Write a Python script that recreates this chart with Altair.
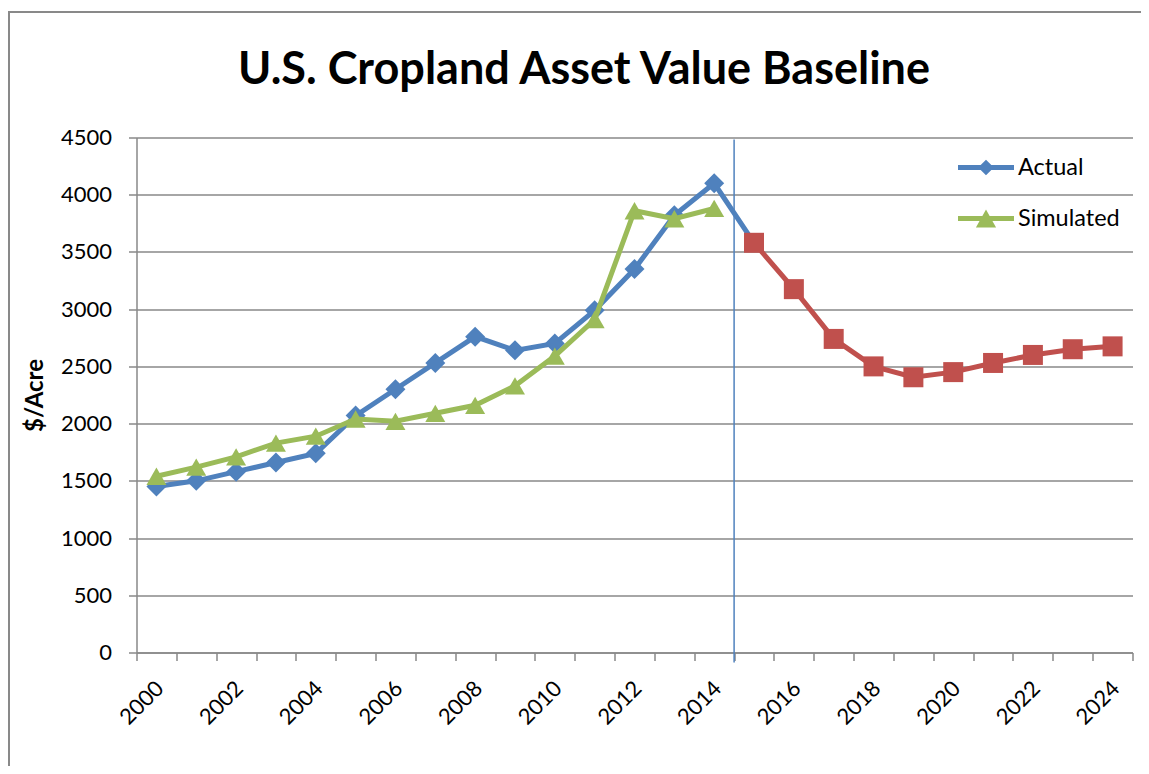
import altair as alt
import pandas as pd

# ---------------- data ----------------
years = list(range(2000, 2025))
actual_years = list(range(2000, 2015))
actual = [1450, 1500, 1580, 1660, 1740, 2070, 2300, 2530, 2760, 2640, 2700, 2990, 3350, 3820, 4100]
simulated = [1540, 1620, 1710, 1830, 1890, 2040, 2020, 2090, 2160, 2330, 2590, 2910, 3860, 3790, 3880]
forecast_years = list(range(2015, 2025))
forecast = [3580, 3175, 2740, 2500, 2405, 2450, 2530, 2600, 2650, 2675]
y_ticks = list(range(0, 4501, 500))
divider_year = [2015]

BLUE, GREEN, RED = "#4F81BD", "#9BBB59", "#C0504D"
GRAY = "#898989"
FONT = "Lato"
W, H = 996, 515

actual_line = pd.DataFrame({"year": actual_years + [forecast_years[0]],
                            "value": actual + [forecast[0]], "series": "Actual"})
actual_pts = pd.DataFrame({"year": actual_years, "value": actual, "series": "Actual"})
sim_df = pd.DataFrame({"year": actual_years, "value": simulated, "series": "Simulated"})
fc_df = pd.DataFrame({"year": forecast_years, "value": forecast, "series": "Baseline"})
legend_df = pd.concat([actual_pts, sim_df])
div_df = pd.DataFrame({"year": divider_year})

xscale = alt.Scale(type="band", domain=years, paddingInner=0, paddingOuter=0)
yscale = alt.Scale(domain=[0, 4500], nice=False)

x_axis = alt.Axis(title=None, labelAngle=-45, labelAlign="right", labelBaseline="top",
                  tickBand="extent", labelExpr="datum.value % 2 == 0 ? datum.label : ''",
                  labelOverlap=False, labelPadding=17, labelOffset=-4, grid=False)
y_axis = alt.Axis(values=y_ticks, format="d", title="$/Acre", titleFontSize=24,
                  titleFontWeight="bold", titlePadding=13, labelPadding=17, grid=True)

X = alt.X("year:O", scale=xscale, axis=x_axis, bandPosition=0.5)
Y = alt.Y("value:Q", scale=yscale, axis=y_axis)

tri_path = "M0,-0.866L1,0.866L-1,0.866Z"
leg_diamond = "M-1,-0.09L1,-0.09L1,0.09L-1,0.09Z M0,-0.28L0.28,0L0,0.28L-0.28,0Z"
leg_tri = "M-1,-0.09L1,-0.09L1,0.09L-1,0.09Z M0,-0.32L0.36,0.32L-0.36,0.32Z"

frame = alt.Chart(alt.Data(values=[{}])).mark_rect(
    fillOpacity=0, stroke=GRAY, strokeWidth=2
).encode(x=alt.value(-127.5), x2=alt.value(W + 60), y=alt.value(-125.5), y2=alt.value(H + 200))

blue_line = alt.Chart(actual_line).mark_line(color=BLUE, strokeWidth=5).encode(x=X, y=Y)
blue_pts = alt.Chart(actual_pts).mark_point(filled=True, opacity=1, color=BLUE, shape="diamond",
                                            size=400).encode(x=X, y=Y)
green_line = alt.Chart(sim_df).mark_line(color=GREEN, strokeWidth=5).encode(x=X, y=Y)
green_pts = alt.Chart(sim_df).mark_point(filled=True, opacity=1, color=GREEN, shape=tri_path,
                                         size=400).encode(x=X, y=Y)
red_line = alt.Chart(fc_df).mark_line(color=RED, strokeWidth=5).encode(x=X, y=Y)
red_pts = alt.Chart(fc_df).mark_point(filled=True, opacity=1, color=RED, shape="square",
                                      size=400).encode(x=X, y=Y)

divider = alt.Chart(div_df).mark_rule(color=BLUE, strokeWidth=1.5).encode(
    x=alt.X("year:O", scale=xscale, axis=x_axis, bandPosition=0),
    y=alt.value(2), y2=alt.value(H + 10))

leg = alt.Legend(title=None, orient="none", legendX=821.5, legendY=2, symbolSize=3136,
                 symbolStrokeWidth=0, symbolOpacity=1, labelFontSize=23.5, labelFont=FONT,
                 labelColor="black", labelOffset=4, rowPadding=11)
legend_layer = alt.Chart(legend_df).mark_point(filled=True, opacity=0, size=1).encode(
    x=X, y=Y,
    color=alt.Color("series:N", scale=alt.Scale(domain=["Actual", "Simulated"], range=[BLUE, GREEN]),
                    legend=leg),
    shape=alt.Shape("series:N", scale=alt.Scale(domain=["Actual", "Simulated"],
                                                range=[leg_diamond, leg_tri]), legend=leg),
)

chart = alt.layer(
    frame, blue_line, blue_pts, green_line, green_pts, red_line, red_pts, divider, legend_layer
).properties(
    width=W, height=H,
    title=alt.Title("U.S. Cropland Asset Value Baseline", fontSize=45, font=FONT, fontWeight="bold",
                    anchor="middle", dx=-50.5, offset=0, dy=118, baseline="alphabetic", color="black"),
    autosize=alt.AutoSizeParams(type="none"),
    padding={"left": 128.5, "top": 129.5, "right": 8.5, "bottom": 113},
).configure_view(stroke=None).configure_axis(
    labelFont=FONT, titleFont=FONT, labelFontSize=22, labelColor="black", titleColor="black",
    domainColor=GRAY, domainWidth=1.5, tickColor=GRAY, tickWidth=1.5, tickSize=8,
    gridColor=GRAY, gridWidth=1.5,
)

chart.save("out.html", embed_options={"renderer": "svg", "actions": False})
